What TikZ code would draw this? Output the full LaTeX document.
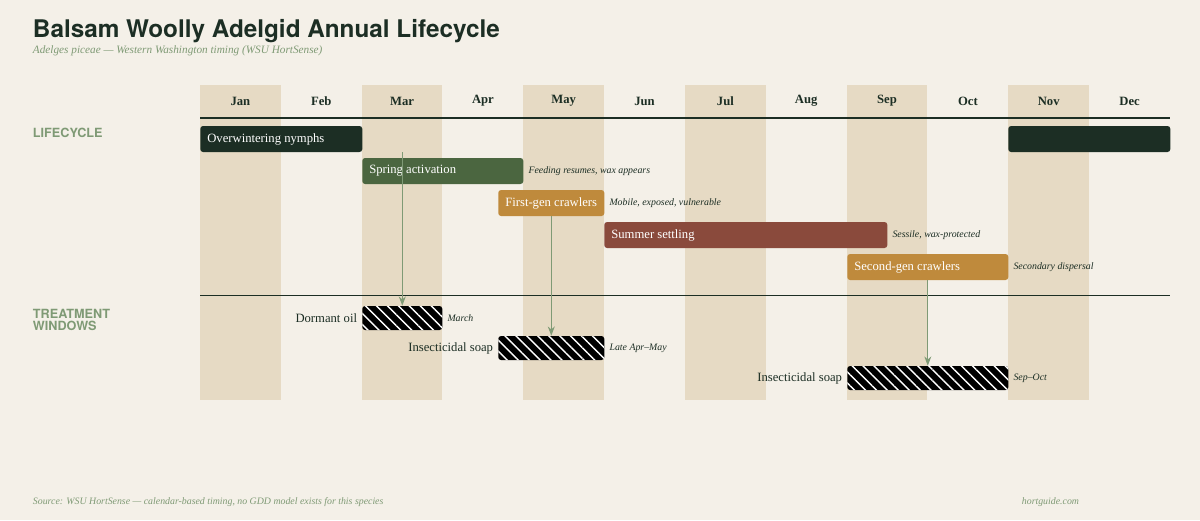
\documentclass[tikz,border=0pt]{standalone}
\usepackage{fontspec}
\setmainfont{Liberation Serif}
\newfontfamily\headfont{TeX Gyre Heros}
\usetikzlibrary{arrows.meta,positioning,patterns.meta}
\definecolor{paper}{HTML}{F4F0E8}
\definecolor{monthband}{HTML}{E6DAC4}
\definecolor{ink}{HTML}{1C2E24}
\definecolor{sage}{HTML}{7F9A75}
\definecolor{springgreen}{HTML}{4B6640}
\definecolor{crawl}{HTML}{BF8A3C}
\definecolor{summer}{HTML}{8A4A3C}
\begin{document}
\begin{tikzpicture}[
    x=0.025cm, y=-0.025cm,
    >=Stealth,
    bar/.style={rounded corners=2pt,anchor=west,minimum height=0.65cm,inner sep=0pt},
    barlabel/.style={anchor=west,text=white,font=\small,inner xsep=5pt},
    hatch/.style={rounded corners=2pt,anchor=west,minimum height=0.6cm,inner sep=0pt,
      fill=black,postaction={pattern={Lines[angle=-45,distance=5.5pt,line width=1pt]},pattern color=white}},
    note/.style={anchor=west,font=\scriptsize\itshape,text=ink},
    tlabel/.style={anchor=east,font=\small,text=ink},
    month/.style={font=\bfseries\small,text=ink},
    link/.style={->,draw=sage,thick}
]
\useasboundingbox[fill=paper] (0,0) rectangle (1200,520);

% Title
\node[anchor=west,font=\headfont\bfseries\LARGE,text=ink] (title) at (28,31) {Balsam Woolly Adelgid Annual Lifecycle};
\node[anchor=west,font=\footnotesize\itshape,text=sage] (subtitle) at (28,51) {Adelges piceae --- Western Washington timing (WSU HortSense)};

% Month columns
\foreach \m [count=\i from 0] in {Jan,Feb,Mar,Apr,May,Jun,Jul,Aug,Sep,Oct,Nov,Dec} {
  \pgfmathsetmacro{\xl}{200+80.83*\i}
  \ifodd\i\else
    \fill[monthband] (\xl,85) rectangle ++(80.83,315);
  \fi
  \node[month] (m\i) at (\xl+40.4,101) {\m};
}
\draw[ink,thick] (200,118) -- (1170,118);
\draw[ink] (200,295) -- (1170,295);

% Row labels
\node[anchor=west,font=\headfont\bfseries\small,text=sage] (lifelabel) at (28,133) {LIFECYCLE};
\node[anchor=west,font=\headfont\bfseries\small,text=sage,align=left] (treatlabel) at (28,320) {TREATMENT\\[-3pt]WINDOWS};

% Lifecycle bars
\node[bar,fill=ink,minimum width=162*0.025cm] (ow) at (200,139) {};
\node[barlabel] at (ow.west) {Overwintering nymphs};
\node[bar,fill=ink,minimum width=162*0.025cm] (ow2) at (1008,139) {};
\node[bar,fill=springgreen,minimum width=161*0.025cm] (spring) at (362,171) {};
\node[barlabel] at (spring.west) {Spring activation};
\node[note] (springnote) at (spring.east) {Feeding resumes, wax appears};
\node[bar,fill=crawl,minimum width=106*0.025cm] (first) at (498,203) {};
\node[barlabel] at (first.west) {First-gen crawlers};
\node[note] (firstnote) at (first.east) {Mobile, exposed, vulnerable};
\node[bar,fill=summer,minimum width=283*0.025cm] (settle) at (604,235) {};
\node[barlabel] at (settle.west) {Summer settling};
\node[note] (settlenote) at (settle.east) {Sessile, wax-protected};
\node[bar,fill=crawl,minimum width=161*0.025cm] (second) at (847,267) {};
\node[barlabel] at (second.west) {Second-gen crawlers};
\node[note] (secondnote) at (second.east) {Secondary dispersal};

% Treatment windows
\node[hatch,minimum width=80*0.025cm] (oil) at (362,318) {};
\node[tlabel] (oillabel) at (oil.west) {Dormant oil};
\node[note] (oilnote) at (oil.east) {March};
\node[hatch,minimum width=106*0.025cm] (soap1) at (498,348) {};
\node[tlabel] (soap1label) at (soap1.west) {Insecticidal soap};
\node[note] (soap1note) at (soap1.east) {Late Apr--May};
\node[hatch,minimum width=161*0.025cm] (soap2) at (847,378) {};
\node[tlabel] (soap2label) at (soap2.west) {Insecticidal soap};
\node[note] (soap2note) at (soap2.east) {Sep--Oct};

% Links
\draw[link] (ow.south -| oil.north) -- (oil.north);
\draw[link] (first.south -| soap1.north) -- (soap1.north);
\draw[link] (second.south -| soap2.north) -- (soap2.north);

% Footer
\node[anchor=west,font=\scriptsize\itshape,text=sage] (source) at (28,502) {Source: WSU HortSense --- calendar-based timing, no GDD model exists for this species};
\node[anchor=east,font=\scriptsize\itshape,text=sage] (site) at (1084,502) {hortguide.com};
\end{tikzpicture}
\end{document}
